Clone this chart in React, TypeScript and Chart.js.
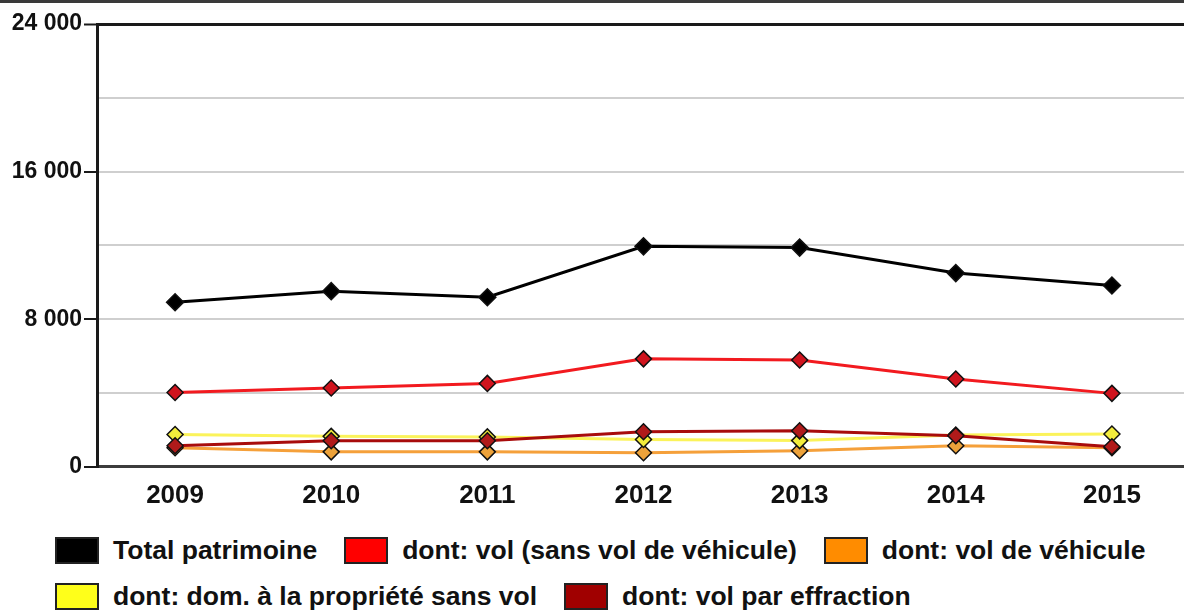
import React, { useEffect, useRef } from 'react';
import { Chart, registerables } from 'chart.js';

Chart.register(...registerables);

// ---- data ----
const years = ['2009', '2010', '2011', '2012', '2013', '2014', '2015'];
const totalPatrimoine = [8920, 9520, 9190, 11950, 11880, 10500, 9830];
const volSansVehicule = [4030, 4270, 4520, 5850, 5790, 4760, 3980];
const volVehicule = [1030, 810, 810, 760, 870, 1140, 1030];
const domSansVol = [1750, 1650, 1620, 1480, 1420, 1720, 1780];
const volEffraction = [1140, 1410, 1410, 1900, 1950, 1680, 1090];

const seriesNames = [
  'Total patrimoine',
  'dont: vol (sans vol de véhicule)',
  'dont: vol de véhicule',
  'dont: dom. à la propriété sans vol',
  'dont: vol par effraction',
];
const seriesValues = [totalPatrimoine, volSansVehicule, volVehicule, domSansVol, volEffraction];
const lineColors = ['#000000', '#f21a1f', '#f5a03a', '#fbf35a', '#a80c0c'];
const pointColors = ['#000000', '#d0141e', '#eda23a', '#f2ec3c', '#b01a1a'];
const legendColors = ['#000000', '#ff0000', '#ff8c00', '#ffff1a', '#a00000'];
const drawOrder = [0, 1, 3, 2, 0];
const legendRows = [[0, 1, 2], [3, 4]];

const yMax = 24000;
const yStep = 4000;
const yLabelEvery = 8000;

const FONT = '"Liberation Sans", Arial, sans-serif';

const fmt = (v: number) => String(v).replace(/\B(?=(\d{3})+(?!\d))/g, ' ');

export default function App() {
  const ref = useRef<HTMLCanvasElement | null>(null);

  useEffect(() => {
    if (!ref.current) return;
    const chart = new Chart(ref.current, {
      type: 'line',
      data: {
        labels: years,
        datasets: seriesValues.map((vals, i) => ({
          label: seriesNames[i],
          data: vals,
          borderColor: lineColors[i],
          backgroundColor: pointColors[i],
          borderWidth: 3,
          pointStyle: 'rectRot',
          pointRadius: i === 0 ? 8.5 : 8,
          pointBackgroundColor: pointColors[i],
          pointBorderColor: '#111',
          pointBorderWidth: 1.5,
          tension: 0,
          order: drawOrder[i],
        })),
      },
      options: {
        responsive: false,
        animation: false,
        layout: { padding: { left: 0, right: 7, top: 24, bottom: 10 } },
        plugins: {
          legend: { display: false },
          tooltip: { enabled: false },
        },
        scales: {
          x: {
            offset: true,
            grid: { display: false, drawTicks: false },
            border: { display: true, color: '#3c3c3c', width: 3 },
            ticks: {
              color: '#111',
              padding: 13,
              font: { family: FONT, size: 26, weight: 'bold' },
            },
          },
          y: {
            min: 0,
            max: yMax,
            afterFit: (scale: any) => {
              scale.width = 97;
            },
            border: { display: true, color: '#1a1a1a', width: 3 },
            grid: {
              color: (ctx: any) => (ctx.tick && ctx.tick.value === yMax ? '#1a1a1a' : '#cfcfcf'),
              lineWidth: (ctx: any) => (ctx.tick && ctx.tick.value === yMax ? 3 : 2),
              tickColor: (ctx: any) =>
                ctx.tick && ctx.tick.value % yLabelEvery === 0 ? '#1a1a1a' : 'rgba(0,0,0,0)',
              tickLength: 13,
              tickWidth: 2,
            },
            ticks: {
              stepSize: yStep,
              padding: 2,
              color: '#111',
              font: { family: FONT, size: 23, weight: 'bold' },
              callback: (v: any) => (Number(v) % yLabelEvery === 0 ? fmt(Number(v)) : ''),
            },
          },
        },
      },
    });
    return () => chart.destroy();
  }, []);

  return (
    <div
      style={{
        position: 'absolute',
        left: 0,
        top: 0,
        width: 1184,
        height: 611,
        overflow: 'hidden',
        background: '#fff',
        fontFamily: FONT,
      }}
    >
      <canvas ref={ref} width={1200} height={534} style={{ display: 'block', position: 'absolute', left: 0, top: 0 }} />
      <div style={{ position: 'absolute', left: 0, top: 0, width: 1184, height: 3, background: '#3a3a3a' }} />
      <div style={{ position: 'absolute', left: 55, top: 537 }}>
        {legendRows.map((row, r) => (
          <div key={r} style={{ display: 'flex', alignItems: 'center', height: 27, marginBottom: 19 }}>
            {row.map((i, k) => (
              <div key={i} style={{ display: 'flex', alignItems: 'center', marginLeft: k === 0 ? 0 : 27 }}>
                <div
                  style={{
                    width: 40,
                    height: 23,
                    background: legendColors[i],
                    border: '2px solid #222',
                  }}
                />
                <span
                  style={{
                    marginLeft: 14,
                    fontSize: 26.5,
                    fontWeight: 'bold',
                    color: '#111',
                    whiteSpace: 'nowrap',
                    lineHeight: '27px',
                  }}
                >
                  {seriesNames[i]}
                </span>
              </div>
            ))}
          </div>
        ))}
      </div>
    </div>
  );
}
